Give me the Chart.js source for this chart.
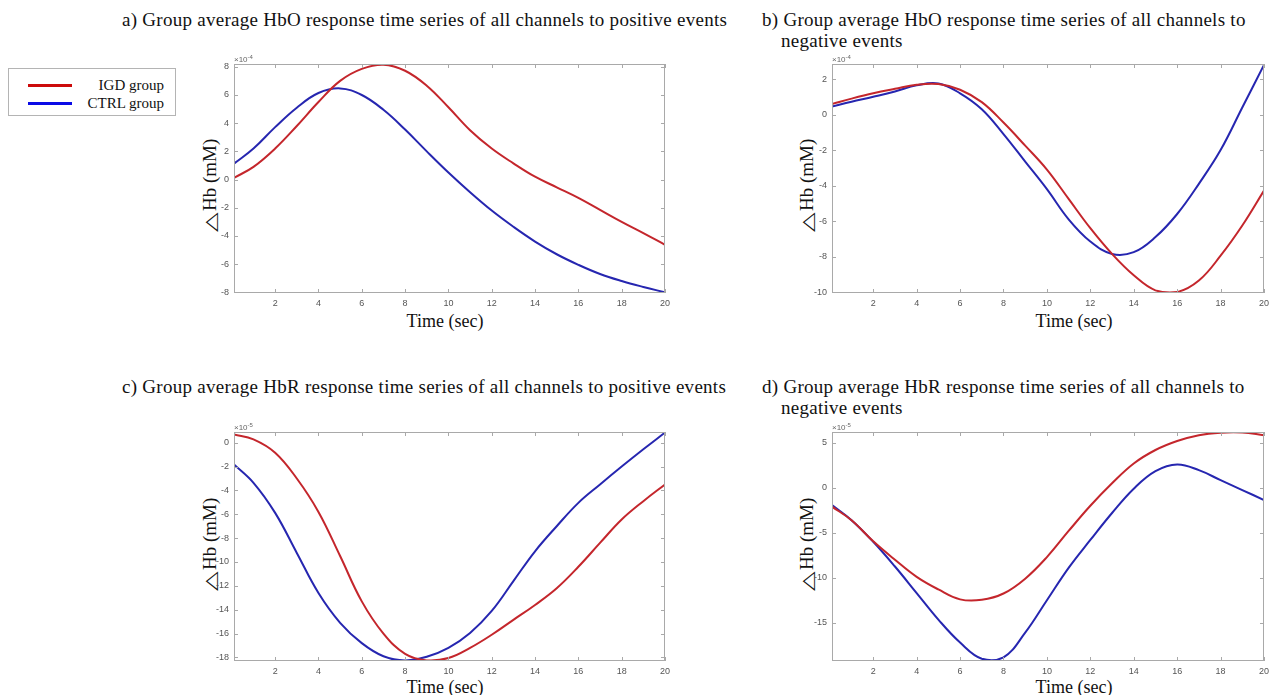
<!DOCTYPE html>
<html>
<head>
<meta charset="utf-8">
<script src="https://cdn.jsdelivr.net/npm/chart.js@4.4.1/dist/chart.umd.min.js"></script>
<style>
  body { margin: 0; width: 1274px; height: 695px; overflow: hidden; background: #fff; position: relative; }
  .serif { font-family: 'Liberation Serif', 'Times New Roman', serif; color: #111; position: absolute; white-space: nowrap; }
  .title { font-size: 19px; line-height: 21px; letter-spacing: 0.27px; }
  .axt { font-size: 18px; line-height: 20px; transform: translate(-50%, -50%); }
  .axt.rot { font-size: 19px; transform: translate(-50%, -50%) rotate(-90deg); }
  .tri { font-family: 'DejaVu Sans', sans-serif; font-size: 16px; display: inline-block; transform: scaleX(1.6); margin: 0 5px 0 5px; font-weight: normal; }
  canvas { position: absolute; }
  #legend { position: absolute; left: 8px; top: 68px; width: 168px; height: 48px; border: 1px solid #b4b4b4; box-sizing: border-box; }
  #legend .ln { position: absolute; left: 19px; width: 44px; height: 3px; }
  #legend .tx { position: absolute; right: 11px; font-size: 15px; line-height: 18px; }
</style>
</head>
<body>

<div class="serif title" style="left:122px; top:9px;">a) Group average HbO response time series of all channels to positive events</div>
<div class="serif title" style="left:762px; top:9px; padding-left:19px; text-indent:-19px;">b) Group average HbO response time series of all channels to<br>negative events</div>
<div class="serif title" style="left:122px; top:376px;">c) Group average HbR response time series of all channels to positive events</div>
<div class="serif title" style="left:762px; top:376px; padding-left:19px; text-indent:-19px;">d) Group average HbR response time series of all channels to<br>negative events</div>

<div class="serif axt rot" style="left:210px; top:186px;"><span class="tri">△</span>Hb (mM)</div>
<div class="serif axt rot" style="left:807px; top:186px;"><span class="tri">△</span>Hb (mM)</div>
<div class="serif axt rot" style="left:210px; top:545px;"><span class="tri">△</span>Hb (mM)</div>
<div class="serif axt rot" style="left:807px; top:545px;"><span class="tri">△</span>Hb (mM)</div>

<div class="serif axt" style="left:445px; top:321px;">Time (sec)</div>
<div class="serif axt" style="left:1074px; top:321px;">Time (sec)</div>
<div class="serif axt" style="left:445px; top:687px;">Time (sec)</div>
<div class="serif axt" style="left:1074px; top:687px;">Time (sec)</div>

<div id="legend">
  <div class="ln" style="top:15px; background:#cc0a0a;"></div>
  <div class="ln" style="top:33px; background:#0a0ae6;"></div>
  <div class="serif tx" style="top:7px;">IGD group</div>
  <div class="serif tx" style="top:25px;">CTRL group</div>
</div>

<canvas id="chartA"></canvas>
<canvas id="chartB"></canvas>
<canvas id="chartC"></canvas>
<canvas id="chartD"></canvas>

<script>
// time axis (sec)
const timeSec = [0.1, 1, 2, 3, 4, 5, 6, 7, 8, 9, 10, 11, 12, 13, 14, 15, 16, 17, 18, 19, 20];
const xTicks = [2, 4, 6, 8, 10, 12, 14, 16, 18, 20];

// a) HbO, positive events (x10^-4 mM)
const hboPosIGD  = [0.12, 0.9, 2.2, 3.8, 5.5, 7.0, 7.85, 8.15, 7.72, 6.66, 5.13, 3.5, 2.2, 1.15, 0.2, -0.55, -1.3, -2.15, -3.0, -3.8, -4.63];
const hboPosCTRL = [1.13, 2.2, 3.72, 5.1, 6.14, 6.47, 6.0, 4.95, 3.55, 2.0, 0.5, -0.9, -2.2, -3.35, -4.4, -5.3, -6.05, -6.7, -7.2, -7.62, -8.0];
const hboPosTicks = [-8, -6, -4, -2, 0, 2, 4, 6, 8];

// b) HbO, negative events (x10^-4 mM)
const hboNegIGD  = [0.6, 0.9, 1.2, 1.45, 1.68, 1.72, 1.4, 0.7, -0.45, -1.75, -3.1, -4.75, -6.4, -7.85, -9.05, -9.9, -10.0, -9.35, -7.95, -6.25, -4.28];
const hboNegCTRL = [0.45, 0.72, 1.0, 1.3, 1.65, 1.75, 1.2, 0.3, -1.1, -2.65, -4.2, -5.9, -7.15, -7.85, -7.75, -6.9, -5.6, -3.9, -2.0, 0.4, 2.8];
const hboNegTicks = [-10, -8, -6, -4, -2, 0, 2];

// c) HbR, positive events (x10^-5 mM)
const hbrPosIGD  = [0.7, 0.28, -0.84, -3.0, -5.8, -9.5, -13.3, -16.0, -17.7, -18.25, -18.05, -17.2, -16.1, -14.85, -13.6, -12.2, -10.4, -8.4, -6.44, -4.9, -3.5];
const hbrPosCTRL = [-1.82, -3.36, -5.88, -9.24, -12.6, -15.1, -16.8, -17.9, -18.25, -17.95, -17.2, -15.95, -14.1, -11.6, -9.1, -7.0, -5.04, -3.5, -2.0, -0.55, 0.85];
const hbrPosTicks = [-18, -16, -14, -12, -10, -8, -6, -4, -2, 0];

// d) HbR, negative events (x10^-5 mM)
const hbrNegIGD  = [-2.1, -3.6, -5.95, -8.0, -9.9, -11.3, -12.4, -12.45, -11.75, -10.1, -7.7, -4.8, -2.0, 0.5, 2.7, 4.2, 5.2, 5.85, 6.13, 6.15, 5.84];
const hbrNegCTRL = [-1.92, -3.6, -6.0, -8.75, -11.7, -14.65, -17.2, -19.0, -18.85, -16.1, -12.5, -8.9, -5.8, -2.8, -0.1, 1.85, 2.59, 1.96, 0.85, -0.25, -1.36];
const hbrNegTicks = [-15, -10, -5, 0, 5];

const IGD_COLOR = '#c4262c';
const CTRL_COLOR = '#2626b0';

// MATLAB-like box with inward ticks and the exponent label
const matlabAxes = {
    id: 'matlabAxes',
    afterDraw(chart, args, opts) {
        const { ctx, chartArea: a, scales: { x, y } } = chart;
        ctx.save();
        ctx.strokeStyle = '#a9a9a9';
        ctx.lineWidth = 1;
        ctx.strokeRect(a.left + 0.5, a.top + 0.5, a.width - 1, a.height - 1);
        const len = 4;
        ctx.beginPath();
        x.ticks.forEach(t => {
            const px = Math.round(x.getPixelForValue(t.value)) + 0.5;
            ctx.moveTo(px, a.bottom); ctx.lineTo(px, a.bottom - len);
            ctx.moveTo(px, a.top); ctx.lineTo(px, a.top + len);
        });
        y.ticks.forEach(t => {
            const py = Math.round(y.getPixelForValue(t.value)) + 0.5;
            ctx.moveTo(a.left, py); ctx.lineTo(a.left + len, py);
            ctx.moveTo(a.right, py); ctx.lineTo(a.right - len, py);
        });
        ctx.stroke();

        ctx.fillStyle = '#666';
        ctx.textBaseline = 'alphabetic';
        ctx.font = '8px "Liberation Sans", Arial, sans-serif';
        ctx.fillText('×10', a.left, a.top - 2);
        const w = ctx.measureText('×10').width;
        ctx.font = '6px "Liberation Sans", Arial, sans-serif';
        ctx.fillText(opts.exp, a.left + w, a.top - 5);
        ctx.restore();
    }
};

function makeChart(id, rect, igd, ctrl, yMin, yMax, yTicks, exp) {
    const padLeft = 40, padTop = 12, padRight = 5, padBottom = 20;
    const canvas = document.getElementById(id);
    canvas.width = rect.r - rect.l + padLeft + padRight;
    canvas.height = rect.b - rect.t + padTop + padBottom;
    canvas.style.left = (rect.l - padLeft) + 'px';
    canvas.style.top = (rect.t - padTop) + 'px';

    const tickFont = { family: '"Liberation Sans", Arial, sans-serif', size: 9 };

    return new Chart(canvas, {
        type: 'line',
        data: {
            datasets: [
                {
                    label: 'IGD group',
                    data: timeSec.map((t, i) => ({ x: t, y: igd[i] })),
                    borderColor: IGD_COLOR,
                    borderWidth: 2,
                    pointRadius: 0,
                    tension: 0.4,
                },
                {
                    label: 'CTRL group',
                    data: timeSec.map((t, i) => ({ x: t, y: ctrl[i] })),
                    borderColor: CTRL_COLOR,
                    borderWidth: 2,
                    pointRadius: 0,
                    tension: 0.4,
                },
            ],
        },
        options: {
            responsive: false,
            animation: false,
            layout: { padding: { top: padTop, right: padRight, left: 0, bottom: 0 } },
            plugins: {
                legend: { display: false },
                tooltip: { enabled: false },
                matlabAxes: { exp: exp },
            },
            scales: {
                x: {
                    type: 'linear',
                    min: 0.1,
                    max: 20,
                    afterBuildTicks: s => { s.ticks = xTicks.map(v => ({ value: v })); },
                    afterFit: s => { s.height = padBottom; },
                    grid: { display: false, drawTicks: false },
                    border: { display: false },
                    ticks: { padding: 5, font: tickFont, color: '#555', maxRotation: 0, autoSkip: false },
                },
                y: {
                    type: 'linear',
                    min: yMin,
                    max: yMax,
                    afterBuildTicks: s => { s.ticks = yTicks.map(v => ({ value: v })); },
                    afterFit: s => { s.width = padLeft; },
                    grid: { display: false, drawTicks: false },
                    border: { display: false },
                    ticks: { padding: 5, font: tickFont, color: '#555', autoSkip: false },
                },
            },
        },
        plugins: [matlabAxes],
    });
}

makeChart('chartA', { l: 234, t: 64, r: 670, b: 293 }, hboPosIGD, hboPosCTRL, -8.05, 8.2, hboPosTicks, '-4');
makeChart('chartB', { l: 832, t: 64, r: 1269, b: 293 }, hboNegIGD, hboNegCTRL, -10.05, 2.85, hboNegTicks, '-4');
makeChart('chartC', { l: 234, t: 432, r: 670, b: 661 }, hbrPosIGD, hbrPosCTRL, -18.3, 0.9, hbrPosTicks, '-5');
makeChart('chartD', { l: 832, t: 432, r: 1269, b: 661 }, hbrNegIGD, hbrNegCTRL, -19.25, 6.2, hbrNegTicks, '-5');
</script>
</body>
</html>
